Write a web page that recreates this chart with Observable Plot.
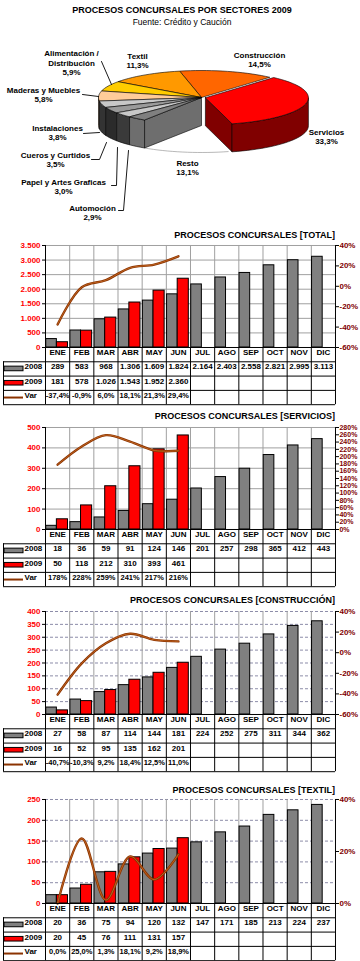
<!DOCTYPE html>
<html><head><meta charset="utf-8">
<script src="https://cdn.jsdelivr.net/npm/d3@7"></script>
<script src="https://cdn.jsdelivr.net/npm/@observablehq/plot@0.6"></script>
<style>
body{margin:0;background:#fff;}
#page{position:relative;width:360px;height:961px;overflow:hidden;font-family:"Liberation Sans",Arial,sans-serif;}
#page > *{position:absolute;left:0;}
.ttl{font-weight:bold;font-size:9px;line-height:11px;white-space:nowrap;color:#000;}
</style></head><body><div id="page"></div>
<script>
// ---------------- DATA ----------------
const pieTitle = "PROCESOS CONCURSALES POR SECTORES 2009";
const pieSubtitle = "Fuente: Crédito y Caución";
const sectors = ["Servicios","Construcción","Textil","Alimentación /\nDistribución","Maderas y Muebles","Instalaciones","Cueros y Curtidos","Papel y Artes Graficas","Automoción","Resto"];
const shares = [33.3,14.5,11.3,5.9,5.8,3.8,3.5,3.0,2.9,13.1];

const months = ["ENE","FEB","MAR","ABR","MAY","JUN","JUL","AGO","SEP","OCT","NOV","DIC"];

const total2008 = [289,583,968,1306,1609,1824,2164,2403,2558,2821,2995,3113];
const total2009 = [181,578,1026,1543,1952,2360];
const totalVar = [-37.4,-0.9,6.0,18.1,21.3,29.4];
const totalLeftTicks = [0,500,1000,1500,2000,2500,3000,3500];
const totalRightTicks = [-60,-40,-20,0,20,40];

const serv2008 = [18,36,59,91,124,146,201,257,298,365,412,443];
const serv2009 = [50,118,212,310,393,461];
const servVar = [178,228,259,241,217,216];
const servLeftTicks = [0,100,200,300,400,500];
const servRightTicks = [0,20,40,60,80,100,120,140,160,180,200,220,240,260,280];

const cons2008 = [27,58,87,114,144,181,224,252,275,311,344,362];
const cons2009 = [16,52,95,135,162,201];
const consVar = [-40.7,-10.3,9.2,18.4,12.5,11.0];
const consLeftTicks = [0,50,100,150,200,250,300,350,400];
const consRightTicks = [-60,-40,-20,0,20,40];

const text2008 = [20,36,75,94,120,132,147,171,185,213,224,237];
const text2009 = [20,45,76,111,131,157];
const textVar = [0.0,25.0,1.3,18.1,9.2,18.9];
const textLeftTicks = [0,50,100,150,200,250];
const textRightTicks = [0,20,40];

const rowLabels = ["2008","2009","Var"];

// ---------------- STYLE / LAYOUT ----------------
const FONT = "'Liberation Sans', Arial, sans-serif";
const page = document.getElementById("page");
const fmtN = v => d3.format(",")(v).replace(/,/g, ".").replace("\u2212", "-");
const fmtPct = (v, dec) => d3.format("." + dec + "f")(v).replace(".", ",").replace("\u2212", "-") + "%";

function addTitle(text, top, opts = {}) {
  const d = document.createElement("div");
  d.className = "ttl";
  d.textContent = text;
  d.style.top = top + "px";
  if (opts.center) { d.style.width = "364px"; d.style.textAlign = "center"; }
  else { d.style.left = "auto"; d.style.right = "25px"; }
  if (opts.size) d.style.fontSize = opts.size + "px";
  if (opts.weight) d.style.fontWeight = opts.weight;
  page.appendChild(d);
}

// ---------------- PIE ----------------
const PIE = {cx: 201, cy: 97, rx: 103, ry: 27, depth: 28, start: 285, explode: 4, step: 3, gap: 9, exploded: 0};
const pieTop = ["#ff0000","#ff6600","#ff9900","#ffcc00","#ffcc99","#c8c8c8","#9a9a9a","#c8c8c8","#808080","none"];
const pieSide = ["#800000","#993300","#b36b00","#b38f00","#b3906b","#333333","#2b2b2b","#3a3a3a","#6e6e6e","none"];
const pieLabelPos = [[326,136],[259,59],[137,60],[71,62],[43,94],[57,132],[55,159],[63,186],[92,212],[187,167]];
const pieLeaders = [
  {i:3, pts:[[101,61],[111,84]]},
  {i:4, pts:[[82,94],[98,96]]},
  {i:5, pts:[[83,133],[99,132]]},
  {i:6, pts:[[91,159],[99,159],[106,142]]},
  {i:7, pts:[[111,185],[116,185],[117,147]]},
  {i:8, pts:[[118,210],[123,210],[128,150]]}
];

const rad = a => a * Math.PI / 180;
const tot = d3.sum(shares);
let acc = PIE.start;
const slices = shares.map((v, i) => { const a0 = acc, a1 = acc + v / tot * 360; acc = a1; return {i, a0, a1}; });
function offset(s) {
  if (s.i !== PIE.exploded) return [0, 0];
  const m = (s.a0 + s.a1) / 2;
  return [PIE.explode * Math.cos(rad(m)), -PIE.explode * Math.sin(rad(m)) * PIE.ry / PIE.rx];
}
const P = (a, lvl, o) => [PIE.cx + o[0] + PIE.rx * Math.cos(rad(a)), PIE.cy + o[1] - PIE.ry * Math.sin(rad(a)) + lvl * PIE.depth];
const C = (lvl, o) => [PIE.cx + o[0], PIE.cy + o[1] + lvl * PIE.depth];
function arc(a0, a1, lvl, o) {
  const n = Math.max(2, Math.ceil(Math.abs(a1 - a0) / PIE.step));
  return d3.range(n + 1).map(k => P(a0 + (a1 - a0) * k / n, lvl, o));
}
function frontIntervals(a0, a1) {
  const out = [];
  for (const [b0, b1] of [[180, 360], [540, 720]]) {
    const lo = Math.max(a0, b0), hi = Math.min(a1, b1);
    if (hi > lo) out.push([lo, hi]);
  }
  return out;
}
const polys = [];
const gapS = slices[PIE.gap];
polys.push({pts: arc(gapS.a0, gapS.a1, 1, [0, 0]), fill: "none", stroke: "#888"});
const prevS = slices[PIE.gap - 1], nextS = slices[(PIE.gap + 1) % slices.length];
for (const [s, a] of [[prevS, prevS.a1], [nextS, nextS.a0]]) {
  const o = offset(s);
  polys.push({pts: [C(0, o), P(a, 0, o), P(a, 1, o), C(1, o), C(0, o)], fill: pieSide[s.i], stroke: "#000"});
}
slices.forEach(s => {
  if (s.i === PIE.gap) return;
  const o = offset(s);
  frontIntervals(s.a0, s.a1).forEach(([b0, b1]) => {
    const top = arc(b0, b1, 0, o), bot = arc(b1, b0, 1, o);
    polys.push({pts: [...top, ...bot, top[0]], fill: pieSide[s.i], stroke: "#000"});
  });
});
const topOrder = slices.filter(s => s.i !== PIE.gap && s.i !== PIE.exploded).concat(slices.filter(s => s.i === PIE.exploded));
topOrder.forEach(s => {
  const o = offset(s);
  polys.push({pts: [C(0, o), ...arc(s.a0, s.a1, 0, o), C(0, o)], fill: pieTop[s.i], stroke: "#000"});
});

const pieLabels = sectors.map((s, i) => ({text: s + "\n" + fmtPct(shares[i], 1), x: pieLabelPos[i][0], y: pieLabelPos[i][1]}));

const pie = Plot.plot({
  width: 360, height: 200, margin: 0,
  x: {domain: [0, 360], range: [0, 360], axis: null},
  y: {domain: [28, 228], range: [0, 200], axis: null},
  style: {background: "transparent", overflow: "visible", fontFamily: FONT},
  marks: [
    ...polys.map(p => Plot.line(p.pts, {x: d => d[0], y: d => d[1], fill: p.fill, stroke: p.stroke, strokeWidth: 0.6, strokeLinejoin: "round"})),
    ...pieLeaders.map(l => Plot.line(l.pts, {x: d => d[0], y: d => d[1], stroke: "#000", strokeWidth: 0.9})),
    Plot.text(pieLabels, {x: "x", y: "y", text: "text", fontSize: 8, fontWeight: "bold", lineHeight: 1.2, fill: "#000", fontFamily: FONT})
  ]
});
pie.style.top = "28px";
page.appendChild(pie);
addTitle(pieTitle, 5, {center: true});
addTitle(pieSubtitle, 17, {center: true, size: 8.5, weight: "normal"});

// ---------------- BAR + LINE CHARTS ----------------
const COL = 290 / 12;
const px2x = px => (px - 45) / COL;
const ROW = 14.3;

function chart(c) {
  const plotH = c.bottom - c.top;
  const tableH = ROW * 4;
  const leftMax = c.leftTicks[c.leftTicks.length - 1];
  const rmin = c.rightTicks[0], rmax = c.rightTicks[c.rightTicks.length - 1];
  const toLeft = v => (v - rmin) / (rmax - rmin) * leftMax;
  const fromLeft = y => y / leftMax * (rmax - rmin) + rmin;
  const txt = {fontFamily: FONT, fontWeight: "bold", fontSize: 8, fill: "#000"};
  const cx = (d, i) => i + 0.5;
  const bounds = months.map((m, i) => i).concat([months.length]);
  const marks = [
    Plot.ruleY(c.leftTicks.slice(1), {stroke: c.gridColor, strokeDasharray: c.dash}),
    Plot.ruleX(months.slice(1), {x: (d, i) => i + 1, stroke: "#a0a0a0"}),
    Plot.rect(c.s2008, {x1: (d, i) => i + 0.03, x2: (d, i) => i + 0.47, y1: () => 0, y2: d => d, fill: "#808080", stroke: "#000", strokeWidth: 1}),
    Plot.rect(c.s2009, {x1: (d, i) => i + 0.47, x2: (d, i) => i + 0.93, y1: () => 0, y2: d => d, fill: "#ff0000", stroke: "#000", strokeWidth: 1}),
    Plot.line(c.vr, {x: cx, y: d => toLeft(d), curve: "catmull-rom", stroke: "#8b3300", strokeWidth: 2.4}),
    Plot.line(c.vr, {x: cx, y: d => toLeft(d), curve: "catmull-rom", stroke: "#d2772e", strokeWidth: 0.7}),
    Plot.ruleX([0, months.length], {stroke: "#000"}),
    Plot.ruleY([0], {stroke: "#000"}),
    Plot.axisY(c.leftTicks, {anchor: "left", tickSize: 3, tickPadding: 2, tickFormat: fmtN, fill: "#ff0000", stroke: "#000", fontWeight: "bold", fontSize: 8, fontFamily: FONT}),
    Plot.axisY(c.rightTicks.map(toLeft), {anchor: "right", tickSize: 3, tickPadding: 1, tickFormat: d => fmtPct(Math.round(fromLeft(d)), 0), fill: "#800000", stroke: "#000", fontWeight: "bold", fontSize: c.rightFont, fontFamily: FONT}),
    // table grid
    ...[1, 2, 3, 4].map(k => Plot.ruleY([0], {dy: ROW * k, insetLeft: -42, stroke: "#000"})),
    Plot.ruleX(bounds, {x: d => d, insetTop: plotH, insetBottom: -tableH, stroke: "#000"}),
    Plot.ruleX([0], {dx: -42, insetTop: plotH + ROW, insetBottom: -tableH, stroke: "#000"}),
    // table text
    Plot.text(months, {x: cx, frameAnchor: "bottom", dy: ROW * 0.5 + 0.5, text: d => d, ...txt}),
    Plot.text(c.s2008, {x: cx, frameAnchor: "bottom", dy: ROW * 1.5 + 0.5, text: fmtN, ...txt}),
    Plot.text(c.s2009, {x: cx, frameAnchor: "bottom", dy: ROW * 2.5 + 0.5, text: fmtN, ...txt}),
    Plot.text(c.vr, {x: cx, frameAnchor: "bottom", dy: ROW * 3.5 + 0.5, text: d => fmtPct(d, c.dec), ...txt, fontSize: 7.5}),
    // legend keys
    Plot.rect([rowLabels[0]], {x1: () => px2x(4), x2: () => px2x(23), y1: () => 0, y2: () => 0, insetTop: -2.3, insetBottom: -2.3, dy: ROW * 1.5, fill: "#808080", stroke: "#000"}),
    Plot.rect([rowLabels[1]], {x1: () => px2x(4), x2: () => px2x(23), y1: () => 0, y2: () => 0, insetTop: -2.3, insetBottom: -2.3, dy: ROW * 2.5, fill: "#ff0000", stroke: "#000"}),
    Plot.ruleY([rowLabels[2]], {y: () => 0, x1: () => px2x(4), x2: () => px2x(23), dy: ROW * 3.5, stroke: "#8b3300", strokeWidth: 2}),
    ...rowLabels.map((r, k) => Plot.text([r], {x: () => px2x(24), frameAnchor: "bottom", dy: ROW * (k + 1.5) + 0.5, text: d => d, textAnchor: "start", ...txt}))
  ];
  const svg = Plot.plot({
    width: 360, height: 6 + plotH + tableH + 3,
    marginLeft: 45, marginRight: 25, marginTop: 6, marginBottom: tableH + 3,
    x: {domain: [0, months.length], axis: null},
    y: {domain: [0, leftMax], axis: null},
    style: {background: "transparent", overflow: "visible", fontFamily: FONT},
    marks
  });
  svg.style.top = (c.top - 6) + "px";
  page.appendChild(svg);
  addTitle(c.title, c.titleY);
}

chart({title: "PROCESOS CONCURSALES [TOTAL]", titleY: 230, top: 245, bottom: 347, s2008: total2008, s2009: total2009, vr: totalVar, dec: 1,
  leftTicks: totalLeftTicks, rightTicks: totalRightTicks, rightFont: 8, gridColor: "#a0a0a0", dash: null});
chart({title: "PROCESOS CONCURSALES [SERVICIOS]", titleY: 410.5, top: 427, bottom: 529, s2008: serv2008, s2009: serv2009, vr: servVar, dec: 0,
  leftTicks: servLeftTicks, rightTicks: servRightTicks, rightFont: 7, gridColor: "#a0a0a0", dash: null});
chart({title: "PROCESOS CONCURSALES [CONSTRUCCIÓN]", titleY: 595, top: 611, bottom: 714, s2008: cons2008, s2009: cons2009, vr: consVar, dec: 1,
  leftTicks: consLeftTicks, rightTicks: consRightTicks, rightFont: 8, gridColor: "#8c8ca8", dash: "3,2"});
chart({title: "PROCESOS CONCURSALES [TEXTIL]", titleY: 784.5, top: 799, bottom: 903, s2008: text2008, s2009: text2009, vr: textVar, dec: 1,
  leftTicks: textLeftTicks, rightTicks: textRightTicks, rightFont: 8, gridColor: "#8c8ca8", dash: "3,2"});
</script></body></html>
